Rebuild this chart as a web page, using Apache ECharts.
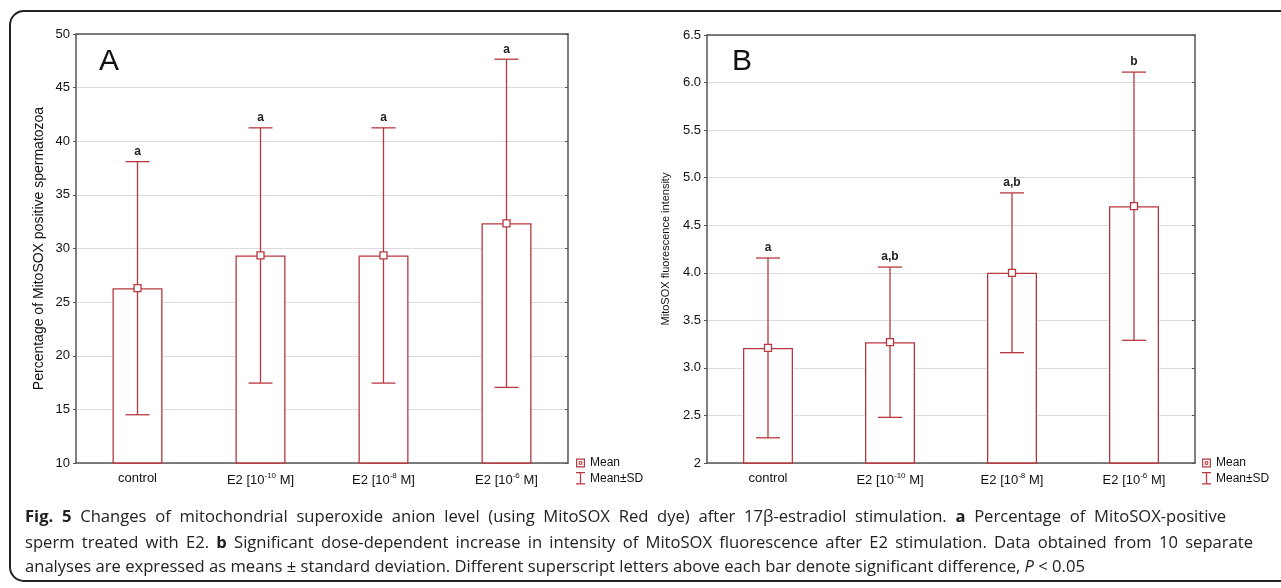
<!DOCTYPE html>
<html>
<head>
<meta charset="utf-8">
<script src="https://cdn.jsdelivr.net/npm/echarts@6/dist/echarts.min.js"></script>
<style>
  html, body { margin: 0; padding: 0; background: #fff; }
  #main { width: 1281px; height: 588px; }
</style>
</head>
<body>
<div id="main"></div>
<script>
// categories shared by both panels
var categories = ["control", "E2 [10^-10 M]", "E2 [10^-8 M]", "E2 [10^-6 M]"];

// panel A: percentage of MitoSOX positive spermatozoa
var meanA = [26.3, 29.35, 29.35, 32.35];
var sdA = [11.8, 11.9, 11.9, 15.3];
var lettersA = ["a", "a", "a", "a"];

// panel B: MitoSOX fluorescence intensity
var meanB = [3.21, 3.27, 4.0, 4.7];
var sdB = [0.945, 0.79, 0.84, 1.41];
var lettersB = ["a", "a,b", "a,b", "b"];

// caption lines ({b|..} bold, {i|..} italic)
var captionLines = [
  "{b|Fig. 5} Changes of mitochondrial superoxide anion level (using MitoSOX Red dye) after 17β-estradiol stimulation. {b|a} Percentage of MitoSOX-positive",
  "sperm treated with E2. {b|b} Significant dose-dependent increase in intensity of MitoSOX fluorescence after E2 stimulation. Data obtained from 10 separate",
  "analyses are expressed as means ± standard deviation. Different superscript letters above each bar denote significant difference, {i|P} < 0.05",
];

var RED = "#b8383f";
var AXIS = "#555";
var FONT = "Liberation Sans";
var CAP_SIZE = 16.6;

var chart = echarts.init(document.getElementById("main"));

function catLabel(v) {
  var m = v.match(/^(.*10)\^(-?\d+)(.*)$/);
  if (!m) return v;
  return m[1] + "{sup|" + m[2] + "}" + m[3];
}

function errData(mean, sd) {
  return mean.map(function (m, i) {
    return [i, m - sd[i], m + sd[i]];
  });
}

function errRenderer(letters) {
  return function (params, api) {
    var x = api.value(0);
    var top = api.coord([x, api.value(2)]);
    var bot = api.coord([x, api.value(1)]);
    var hw = 12;
    var st = { stroke: RED, lineWidth: 1.3 };
    return {
      type: "group",
      children: [
        { type: "line", shape: { x1: top[0], y1: top[1], x2: bot[0], y2: bot[1] }, style: st },
        { type: "line", shape: { x1: top[0] - hw, y1: top[1], x2: top[0] + hw, y2: top[1] }, style: st },
        { type: "line", shape: { x1: bot[0] - hw, y1: bot[1], x2: bot[0] + hw, y2: bot[1] }, style: st },
        {
          type: "text",
          style: {
            text: letters[params.dataIndex],
            x: top[0],
            y: top[1] - 4,
            align: "center",
            verticalAlign: "bottom",
            font: "bold 12px " + FONT,
            fill: "#222",
          },
        },
      ],
    };
  };
}

function xAxes(gi) {
  return [
    {
      type: "category",
      gridIndex: gi,
      data: categories,
      axisLine: { lineStyle: { color: AXIS, width: 1.5 } },
      axisTick: { inside: true, alignWithLabel: true, interval: 0, length: 4, lineStyle: { color: AXIS } },
      axisLabel: {
        interval: 0,
        margin: 9,
        color: "#111",
        fontFamily: FONT,
        fontSize: 13,
        formatter: catLabel,
        rich: {
          sup: { fontSize: 8, verticalAlign: "top", padding: [0, 0, 8, 0], color: "#111", fontFamily: FONT },
        },
      },
      splitLine: { show: false },
    },
    {
      type: "category",
      gridIndex: gi,
      position: "top",
      data: categories,
      axisLine: { lineStyle: { color: AXIS, width: 1.5 } },
      axisTick: { inside: true, alignWithLabel: true, interval: 0, length: 4, lineStyle: { color: AXIS } },
      axisLabel: { show: false, interval: 0 },
    },
  ];
}

function yAxes(gi, min, max, interval, name, nameSize, nameGap, fmt) {
  return [
    {
      type: "value",
      gridIndex: gi,
      min: min,
      max: max,
      interval: interval,
      name: name,
      nameLocation: "middle",
      nameGap: nameGap,
      nameTextStyle: { fontFamily: FONT, fontSize: nameSize, color: "#111" },
      axisLine: { show: true, lineStyle: { color: AXIS, width: 1.5 } },
      axisTick: { show: true, length: 3, lineStyle: { color: AXIS } },
      axisLabel: { margin: 6, color: "#111", fontFamily: FONT, fontSize: 13, formatter: fmt },
      splitLine: { show: true, lineStyle: { color: "#dcdcdc", width: 1 } },
    },
    {
      type: "value",
      gridIndex: gi,
      position: "right",
      min: min,
      max: max,
      interval: interval,
      axisLine: { show: true, lineStyle: { color: AXIS, width: 1.5 } },
      axisTick: { show: true, inside: true, length: 3, lineStyle: { color: AXIS } },
      axisLabel: { show: false },
      splitLine: { show: false },
    },
  ];
}

function panelSeries(xi, yi, mean, sd, letters) {
  return [
    {
      type: "bar",
      xAxisIndex: xi,
      yAxisIndex: yi,
      data: mean,
      barWidth: 50,
      itemStyle: { color: "#fff", borderColor: RED, borderWidth: 1.3 },
      silent: true,
      z: 2,
    },
    {
      name: "Mean±SD",
      type: "custom",
      xAxisIndex: xi,
      yAxisIndex: yi,
      data: errData(mean, sd),
      renderItem: errRenderer(letters),
      itemStyle: { color: RED },
      z: 3,
    },
    {
      name: "Mean",
      type: "scatter",
      xAxisIndex: xi,
      yAxisIndex: yi,
      data: mean.map(function (m, i) { return [i, m]; }),
      symbol: "rect",
      symbolSize: 7,
      itemStyle: { color: "#fff", borderColor: RED, borderWidth: 1.3, opacity: 1 },
      z: 4,
    },
  ];
}

var meanIcon = "path://M0,0H10V10H0Z M1.3,1.3V8.7H8.7V1.3Z M3,3H7V7H3Z M4.2,4.2V5.8H5.8V4.2Z";
var sdIcon = "path://M0,0H10V1.4H5.7V12.6H10V14H0V12.6H4.3V1.4H0Z";

function legends(left) {
  var ts = { fontFamily: FONT, fontSize: 12, color: "#111" };
  return [
    {
      left: left, top: 452, data: [{ name: "Mean", icon: meanIcon, itemStyle: { color: RED, borderWidth: 0 } }],
      itemWidth: 9, itemHeight: 9, textStyle: ts, selectedMode: false,
    },
    {
      left: left, top: 467, data: [{ name: "Mean±SD", icon: sdIcon, itemStyle: { color: RED, borderWidth: 0 } }],
      itemWidth: 9, itemHeight: 13, textStyle: ts, selectedMode: false,
    },
  ];
}

// caption: words laid out one by one so the full lines can be justified
var measureCtx = document.createElement("canvas").getContext("2d");

function capFont(style) {
  var f = CAP_SIZE + "px 'Open Sans'";
  if (style === "b") return "bold " + f;
  if (style === "i") return "italic " + f;
  return f;
}

function captionWords(line) {
  var words = [];
  var re = /\{(\w)\|([^}]*)\}|([^{]+)/g;
  var m;
  while ((m = re.exec(line))) {
    var style = m[1] || "";
    var txt = m[1] ? m[2] : m[3];
    txt.split(" ").forEach(function (w) {
      if (w) words.push({ text: w, style: style });
    });
  }
  return words;
}

function captionGraphics(line, x0, y, justifyTo) {
  var words = captionWords(line);
  words.forEach(function (w) {
    measureCtx.font = capFont(w.style);
    w.width = measureCtx.measureText(w.text).width;
  });
  measureCtx.font = capFont("");
  var gap = measureCtx.measureText(" ").width;
  if (justifyTo) {
    var total = words.reduce(function (s, w) { return s + w.width; }, 0);
    gap = (justifyTo - x0 - total) / (words.length - 1);
  }
  var x = x0;
  return words.map(function (w) {
    var el = {
      type: "text",
      x: x,
      y: y,
      silent: true,
      style: { text: w.text, font: capFont(w.style), fill: "#222", verticalAlign: "top" },
    };
    x += w.width + gap;
    return el;
  });
}

var option = {
  animation: false,
  backgroundColor: "#fff",
  grid: [
    { left: 76, top: 34, width: 492, height: 429 },
    { left: 707, top: 35, width: 488, height: 428 },
  ],
  xAxis: xAxes(0).concat(xAxes(1)),
  yAxis: yAxes(0, 10, 50, 5, "Percentage of MitoSOX positive spermatozoa", 14, 30, function (v) { return v; })
    .concat(yAxes(1, 2, 6.5, 0.5, "MitoSOX fluorescence intensity", 11, 36, function (v) {
      return v === 2 ? "2" : v.toFixed(1);
    })),
  legend: legends(571).concat(legends(1197)),
  series: panelSeries(0, 0, meanA, sdA, lettersA).concat(panelSeries(2, 2, meanB, sdB, lettersB)),
  graphic: [
    {
      type: "rect",
      shape: { x: 10, y: 11, width: 1300, height: 570, r: 14 },
      style: { fill: "none", stroke: "#222", lineWidth: 2 },
      silent: true,
    },
    { type: "text", left: 99, top: 47, style: { text: "A", font: "30px " + FONT, fill: "#111" } },
    { type: "text", left: 732, top: 47, style: { text: "B", font: "30px " + FONT, fill: "#111" } },
  ]
    .concat(captionGraphics(captionLines[0], 25, 509, 1226))
    .concat(captionGraphics(captionLines[1], 25, 535, 1253))
    .concat(captionGraphics(captionLines[2], 25, 559, null)),
};

chart.setOption(option);
</script>
</body>
</html>
